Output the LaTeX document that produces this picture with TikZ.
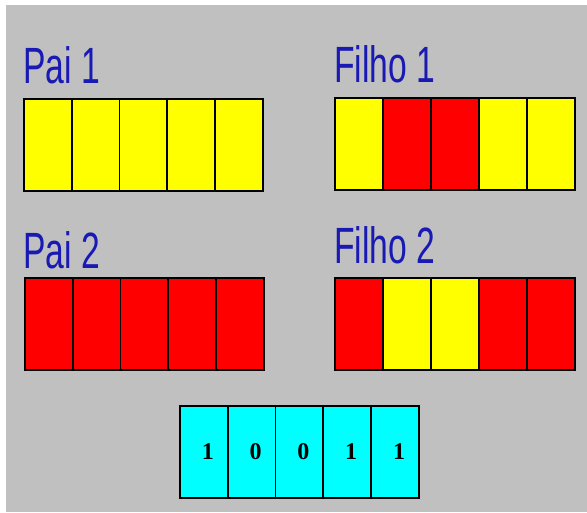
\documentclass[tikz,border=0pt]{standalone}
\usepackage{fontspec}
\setmainfont{Liberation Sans}
\newfontfamily\titlefont[FakeStretch=0.66]{Liberation Sans}
\newfontfamily\bitfont{Liberation Serif}
\definecolor{titleblue}{RGB}{25,25,180}
\definecolor{panelgray}{RGB}{192,192,192}
\definecolor{geneyellow}{RGB}{255,255,0}
\definecolor{genered}{RGB}{255,0,0}
\definecolor{maskcyan}{RGB}{0,255,255}
\begin{document}
\begin{tikzpicture}[x=1pt,y=-1pt,
  cell/.style={draw=black,line width=1.8pt,minimum width=47.8pt,minimum height=92pt,
    inner sep=0pt,anchor=north west},
  title/.style={anchor=base west,inner sep=0pt,text=titleblue,
    font=\titlefont\fontsize{51}{51}\selectfont}]
  \useasboundingbox (0,0) rectangle (587,512);
  \fill[white] (0,0) rectangle (587,512);
  \fill[panelgray] (6,5) rectangle (587,512);
  % parents
  \node[title] (pai1) at (23,83) {Pai 1};
  \foreach \c [count=\i] in {geneyellow,geneyellow,geneyellow,geneyellow,geneyellow}
    \node[cell,fill=\c] (pai1-\i) at ({23+47.8*(\i-1)},98) {};
  \node[title] (pai2) at (23,268) {Pai 2};
  \foreach \c [count=\i] in {genered,genered,genered,genered,genered}
    \node[cell,fill=\c] (pai2-\i) at ({24+47.8*(\i-1)},277) {};
  % children
  \node[title] (filho1) at (334,82) {Filho 1};
  \foreach \c [count=\i] in {geneyellow,genered,genered,geneyellow,geneyellow}
    \node[cell,fill=\c] (filho1-\i) at ({334+48*(\i-1)},97) {};
  \node[title] (filho2) at (334,263) {Filho 2};
  \foreach \c [count=\i] in {genered,geneyellow,geneyellow,genered,genered}
    \node[cell,fill=\c] (filho2-\i) at ({334+48*(\i-1)},277) {};
  % mask
  \foreach \b [count=\i] in {1,0,0,1,1}
    \node[cell,fill=maskcyan,font=\bitfont\bfseries\fontsize{24}{24}\selectfont]
      (mask-\i) at ({179+47.8*(\i-1)},405) {\hspace*{8pt}\b};
\end{tikzpicture}
\end{document}
